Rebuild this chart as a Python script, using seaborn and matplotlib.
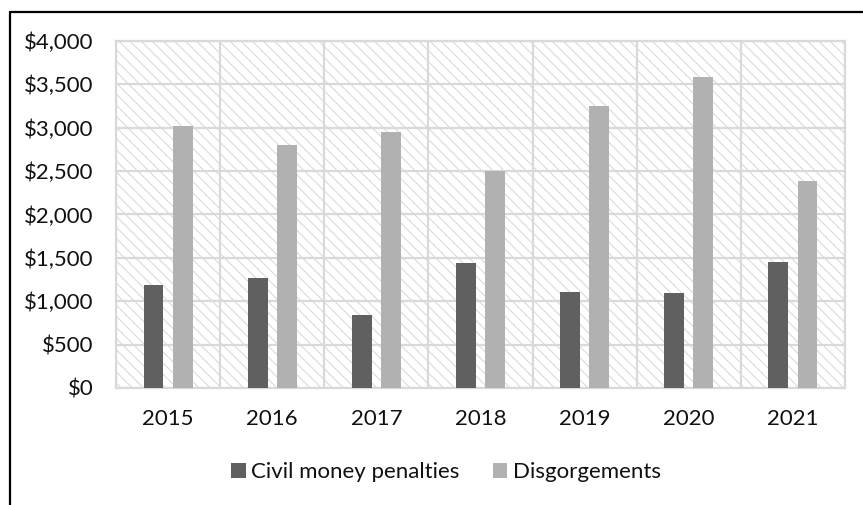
import matplotlib
matplotlib.use("Agg")
import matplotlib.pyplot as plt
from matplotlib.patches import Rectangle
from matplotlib.lines import Line2D
from matplotlib.ticker import FuncFormatter, MultipleLocator
import seaborn as sns
import pandas as pd
import numpy as np

# Enforcement totals by fiscal year (in $ millions)
years = ["2015", "2016", "2017", "2018", "2019", "2020", "2021"]
civil_penalties = [1184, 1272, 836, 1440, 1103, 1095, 1452]
disgorgements = [3015, 2805, 2950, 2500, 3245, 3590, 2390]
series_names = ["Civil money penalties", "Disgorgements"]
series_colors = ["#606060", "#b1b1b1"]

df = pd.DataFrame({
    "year": years * 2,
    "amount": civil_penalties + disgorgements,
    "series": [series_names[0]] * len(years) + [series_names[1]] * len(years),
})

sns.set_theme(style="white")
plt.rcParams["font.family"] = ["Lato", "DejaVu Sans"]

fig = plt.figure(figsize=(8.63, 5.05), dpi=100)
ax = fig.add_axes([116 / 863, 1 - 388 / 505, (845 - 116) / 863, (388 - 41) / 505])

grid_color = "#d9d9d9"
plt.rcParams["hatch.linewidth"] = 0.8

# Hatched plot-area background
ax.set_facecolor("white")
ax.add_patch(Rectangle((0, 0), 1, 1, transform=ax.transAxes,
                       facecolor="white", edgecolor="#dadada",
                       hatch="\\\\\\", linewidth=0, zorder=0))

sns.barplot(data=df, x="year", y="amount", hue="series",
            palette=series_colors, width=0.56, gap=0.32,
            saturation=1, linewidth=0, ax=ax, zorder=3, legend=True)

ax.set_xlim(-0.5, len(years) - 0.5)
ax.set_ylim(0, 4000)
ax.yaxis.set_major_locator(MultipleLocator(500))
ax.yaxis.set_major_formatter(FuncFormatter(lambda v, _: f"${v:,.0f}"))
ax.set_xticks(np.arange(-0.5, len(years), 1.0), minor=True)

ax.set_axisbelow(False)
ax.grid(axis="y", which="major", color=grid_color, linewidth=1.6, zorder=1)
ax.grid(axis="x", which="minor", color=grid_color, linewidth=1.6, zorder=1)
ax.grid(axis="x", which="major", visible=False)
for gl in ax.get_xgridlines() + ax.get_ygridlines():
    gl.set_zorder(1)

for sp in ax.spines.values():
    sp.set_color(grid_color)
    sp.set_linewidth(1.6)
    sp.set_zorder(1)

ax.set_xlabel("")
ax.set_ylabel("")
ax.tick_params(axis="both", which="both", length=0, labelsize=16, colors="#111111")
ax.tick_params(axis="y", pad=16)
ax.tick_params(axis="x", pad=15)

handles, labels = ax.get_legend_handles_labels()
ax.get_legend().remove()
fig.legend(handles, labels, loc="center", bbox_to_anchor=(446 / 863, 1 - 472 / 505),
           ncol=2, frameon=False, fontsize=16, handlelength=0.65, handleheight=0.65,
           handletextpad=0.25, columnspacing=1.5, labelcolor="#111111")

# Outer chart frame (left and top edges)
fig.add_artist(Line2D([10 / 863, 10 / 863], [0, 1 - 12 / 505], color="black",
                      linewidth=1.6, transform=fig.transFigure))
fig.add_artist(Line2D([10 / 863, 1], [1 - 12 / 505, 1 - 12 / 505], color="black",
                      linewidth=1.6, transform=fig.transFigure))

fig.savefig("out.png", dpi=100)
